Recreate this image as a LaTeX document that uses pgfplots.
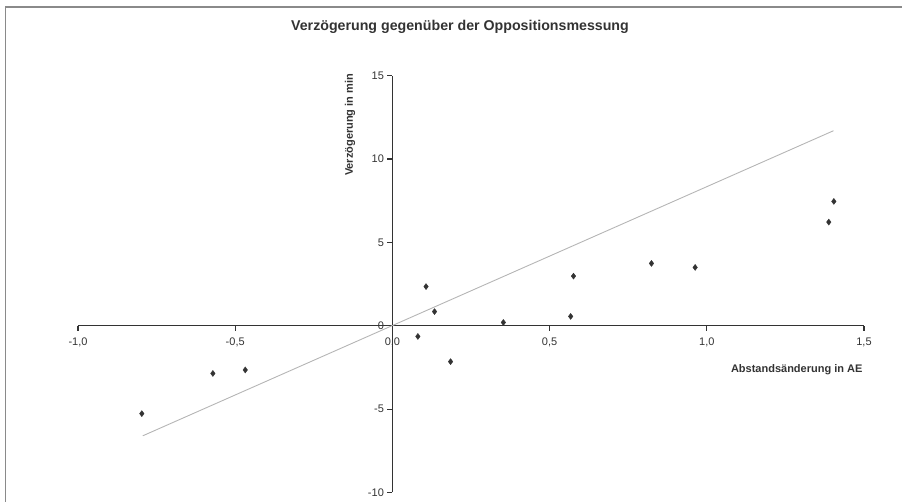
\documentclass[border=0pt]{standalone}
\usepackage{fontspec}
\setmainfont{Liberation Sans}
\usepackage{pgfplots}
\pgfplotsset{compat=1.18}
\definecolor{ink}{HTML}{333333}
\definecolor{trend}{HTML}{B5B5B5}
\definecolor{framec}{HTML}{8A8A8A}
\begin{document}
\begin{tikzpicture}
\useasboundingbox (-78pt,-9.5pt) rectangle (824pt,492.5pt);
\draw[framec, line width=1.5pt] (-72.5pt,-9.5pt) -- (-72.5pt,485.5pt) -- (824pt,485.5pt);
\begin{axis}[
  at={(0pt,0pt)}, anchor=south west,
  scale only axis, width=786pt, height=416.8pt,
  xmin=-1, xmax=1.5, ymin=-10, ymax=15,
  axis lines=middle,
  axis line style={ink, line width=1.4pt, -},
  xtick={-1,-0.5,0,0.5,1,1.5},
  xticklabels={{-1,0},{-0,5},{0,0},{0,5},{1,0},{1,5}},
  ytick={-10,-5,0,5,10,15},
  hide obscured x ticks=false, hide obscured y ticks=false,
  major tick length=5pt,
  tick style={ink, line width=1.2pt},
  xtick align=outside, ytick align=outside,
  tick label style={font=\fontsize{11}{13}\selectfont, text=ink},
  /pgf/number format/assume math mode=true,
  xticklabel style={yshift=-4pt},
  yticklabel style={/pgf/number format/.cd, fixed, precision=0},
  xlabel={Abstandsänderung in AE},
  ylabel={Verzögerung in min},
  x label style={at={(axis description cs:1.0025,0.294)}, anchor=east, font=\bfseries\fontsize{11}{13}\selectfont, text=ink},
  y label style={at={(axis description cs:0.346,0.882)}, anchor=center, rotate=90, font=\bfseries\fontsize{11}{13}\selectfont, text=ink},
  title={Verzögerung gegenüber der Oppositionsmessung},
  title style={at={(axis description cs:0.486,1.1025)}, anchor=center, font=\bfseries\fontsize{14.2}{16}\selectfont, text=ink},
  clip=false,
]
\addplot[trend, line width=0.9pt, no markers] coordinates {(-0.794,-6.6) (1.403,11.7)};
\addplot[only marks, mark=diamond*, mark size=3pt, color=ink] coordinates {
  (-0.797,-5.27) (-0.571,-2.86) (-0.468,-2.65)
  (0.081,-0.64) (0.107,2.35) (0.134,0.85) (0.185,-2.15)
  (0.353,0.20) (0.567,0.56) (0.576,2.98) (0.824,3.74)
  (0.963,3.50) (1.388,6.22) (1.404,7.46)
};
\end{axis}
\end{tikzpicture}
\end{document}
